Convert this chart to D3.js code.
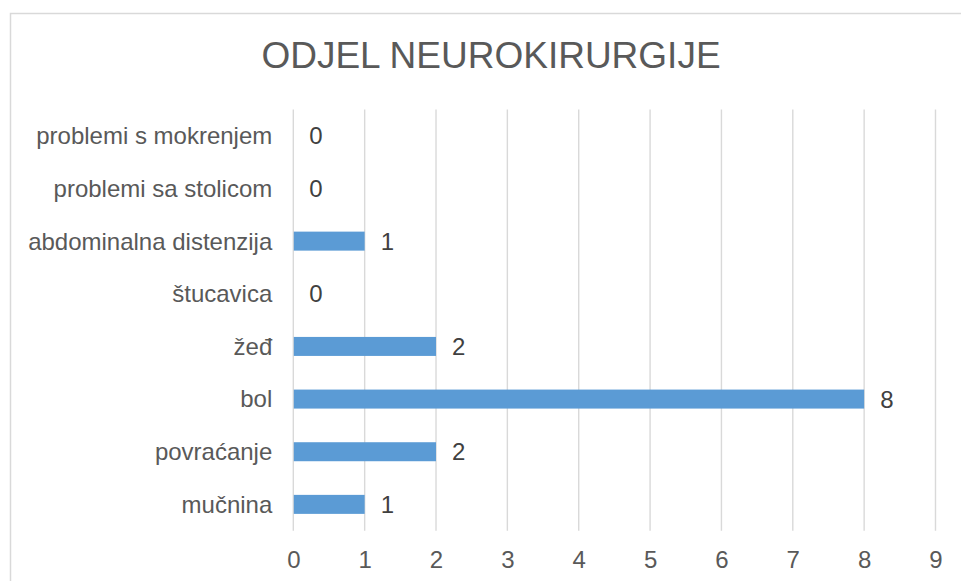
<!DOCTYPE html>
<html>
<head>
<meta charset="utf-8">
<script src="https://cdn.jsdelivr.net/npm/d3@7"></script>
<style>
  html, body { margin: 0; padding: 0; background: #fff; }
  svg { display: block; }
  text { font-family: "Liberation Sans", Arial, sans-serif; fill: #595959; }
</style>
</head>
<body>
<svg id="chart" width="961" height="581"></svg>
<script>
const title = "ODJEL NEUROKIRURGIJE";
const categories = ["problemi s mokrenjem", "problemi sa stolicom", "abdominalna distenzija", "štucavica", "žeđ", "bol", "povraćanje", "mučnina"];
const values = [0, 0, 1, 0, 2, 8, 2, 1];
const xTicks = [0, 1, 2, 3, 4, 5, 6, 7, 8, 9];

const svg = d3.select("#chart");
const W = 961, H = 581;
const plot = { left: 293.3, right: 935.5, top: 109.5, bottom: 530.7 };

// chart border
svg.append("rect")
  .attr("x", 10.5).attr("y", 13.5)
  .attr("width", W + 20).attr("height", H + 20)
  .attr("fill", "none").attr("stroke", "#D9D9D9").attr("stroke-width", 1.5);

svg.append("text")
  .attr("x", 491).attr("y", 68)
  .attr("text-anchor", "middle")
  .attr("font-size", 37)
  .text(title);

const x = d3.scaleLinear().domain([0, 9]).range([plot.left, plot.right]);
const y = d3.scaleBand().domain(categories).range([plot.top, plot.bottom]).paddingInner(0.64).paddingOuter(0.32);

// gridlines
svg.append("g").selectAll("line").data(xTicks).join("line")
  .attr("x1", d => x(d)).attr("x2", d => x(d))
  .attr("y1", plot.top).attr("y2", plot.bottom)
  .attr("stroke", "#D9D9D9").attr("stroke-width", 1.4);

// x axis labels
const xAxis = d3.axisBottom(x).tickValues(xTicks).tickSize(0).tickPadding(0).tickFormat(d3.format("d"));
const gx = svg.append("g").attr("transform", `translate(0,${plot.bottom})`).call(xAxis);
gx.select(".domain").remove();
gx.selectAll("text").attr("font-size", 24).attr("dy", null).attr("y", 37.5).style("fill", "#595959")
  .style("font-family", '"Liberation Sans", Arial, sans-serif');

// y axis labels
const yAxis = d3.axisLeft(y).tickSize(0).tickPadding(0);
const gy = svg.append("g").attr("transform", `translate(${plot.left - 21},0)`).call(yAxis);
gy.select(".domain").remove();
gy.selectAll("text").attr("font-size", 24).attr("dy", "0.35em").attr("x", 0).style("fill", "#595959")
  .style("font-family", '"Liberation Sans", Arial, sans-serif');

// bars
const data = categories.map((c, i) => ({ c, v: values[i] }));
svg.append("g").selectAll("rect").data(data).join("rect")
  .attr("x", x(0) + 0.5)
  .attr("y", d => y(d.c) + y.bandwidth() / 2 - 9.5)
  .attr("width", d => Math.max(0, x(d.v) - x(0) - 0.5))
  .attr("height", 19)
  .attr("fill", "#5B9BD5");

// data labels
svg.append("g").selectAll("text").data(data).join("text")
  .attr("x", d => x(d.v) + 16)
  .attr("y", d => y(d.c) + y.bandwidth() / 2)
  .attr("dy", "0.36em")
  .attr("font-size", 24)
  .style("fill", "#404040")
  .text(d => d.v);
</script>
</body>
</html>
